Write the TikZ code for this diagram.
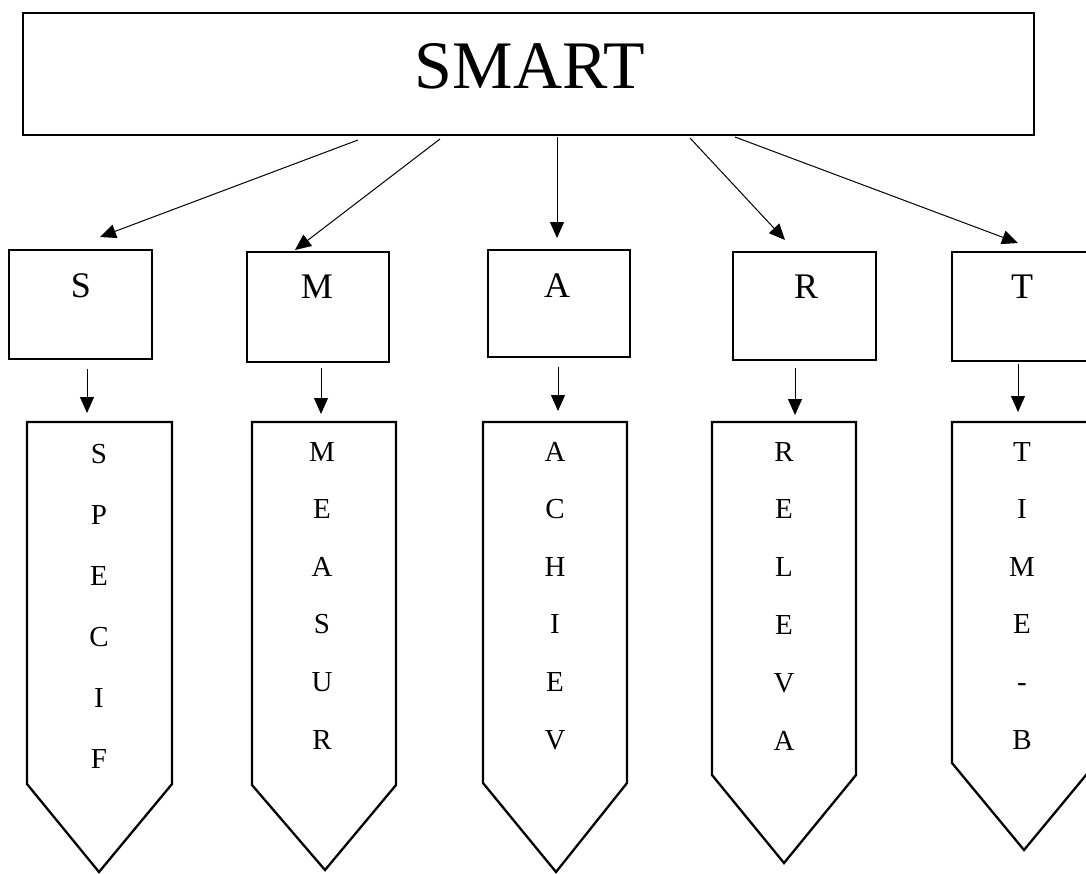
\documentclass[tikz,border=0pt]{standalone}
\usepackage{fontspec}
\setmainfont{Liberation Serif}
\usetikzlibrary{arrows.meta}
\begin{document}
\begin{tikzpicture}[x=1pt,y=-1pt,
  box/.style={draw, line width=2.3pt, inner sep=0pt},
  link/.style={line width=1pt, -{Triangle[length=16pt,width=14pt]}},
  penta/.style={draw, line width=2.3pt, line join=miter},
  letter/.style={anchor=base, inner sep=0pt, font=\fontsize{29}{29}\selectfont},
  boxletter/.style={anchor=base, inner sep=0pt, font=\fontsize{36}{36}\selectfont},
  title/.style={anchor=base, inner sep=0pt, font=\fontsize{68}{68}\selectfont}]
\useasboundingbox (0,0) rectangle (1086,873);

% top box
\node[box, minimum width=1011pt, minimum height=122pt] (smart) at (528.5,74) {};
\node[title] (smarttext) at (530,88) {SMART};

% small boxes
\node[box, minimum width=143pt, minimum height=109pt] (bS) at (80.5,304.5) {};
\node[box, minimum width=142pt, minimum height=110pt] (bM) at (318,307) {};
\node[box, minimum width=142pt, minimum height=107pt] (bA) at (559,303.5) {};
\node[box, minimum width=143pt, minimum height=108pt] (bR) at (804.5,306) {};
\node[box, minimum width=144pt, minimum height=109pt] (bT) at (1024,306.5) {};
\node[boxletter] (lS) at (81,297) {S};
\node[boxletter] (lM) at (317,298) {M};
\node[boxletter] (lA) at (557,297) {A};
\node[boxletter] (lR) at (806,298) {R};
\node[boxletter] (lT) at (1022,298) {T};

% arrows from top box
\coordinate (o1) at (358,140); \coordinate (t1) at (100,237);
\coordinate (o2) at (440,139); \coordinate (t2) at (295,250);
\coordinate (o3) at (557,137); \coordinate (t3) at (557,238);
\coordinate (o4) at (690,138); \coordinate (t4) at (785,240);
\coordinate (o5) at (735,137); \coordinate (t5) at (1018,243);
\foreach \i in {1,...,5} \draw[link] (o\i) -- (t\i);

% small arrows
\coordinate (sS) at (87,369);  \coordinate (eS) at (87,413);
\coordinate (sM) at (321,368); \coordinate (eM) at (321,414);
\coordinate (sA) at (558,367); \coordinate (eA) at (558,411);
\coordinate (sR) at (795,368); \coordinate (eR) at (795,415);
\coordinate (sT) at (1018,364); \coordinate (eT) at (1018,412);
\foreach \k in {S,M,A,R,T} \draw[link] (s\k) -- (e\k);

% pentagons
\draw[penta] (27,422) -- (172,422) -- (172,784) -- (99,872) -- (27,784) -- cycle;
\draw[penta] (252,422) -- (396,422) -- (396,785) -- (325,870) -- (252,785) -- cycle;
\draw[penta] (483,422) -- (627,422) -- (627,783) -- (556,872) -- (483,783) -- cycle;
\draw[penta] (712,422) -- (856,422) -- (856,775) -- (784,863) -- (712,775) -- cycle;
\draw[penta] (952,422) -- (1096,422) -- (1096,763) -- (1024,850) -- (952,763) -- cycle;

% letters
\foreach \l [count=\i] in {S,P,E,C,I,F}
  \node[letter] (pS\i) at (99,{463+61*(\i-1)}) {\l};
\foreach \l [count=\i] in {M,E,A,S,U,R}
  \node[letter] (pM\i) at (322,{461+57.6*(\i-1)}) {\l};
\foreach \l [count=\i] in {A,C,H,I,E,V}
  \node[letter] (pA\i) at (555,{461+57.6*(\i-1)}) {\l};
\foreach \l [count=\i] in {R,E,L,E,V,A}
  \node[letter] (pR\i) at (784,{461+57.8*(\i-1)}) {\l};
\foreach \l [count=\i] in {T,I,M,E,-,B}
  \node[letter] (pT\i) at (1022,{461+57.6*(\i-1)}) {\l};
\end{tikzpicture}
\end{document}
